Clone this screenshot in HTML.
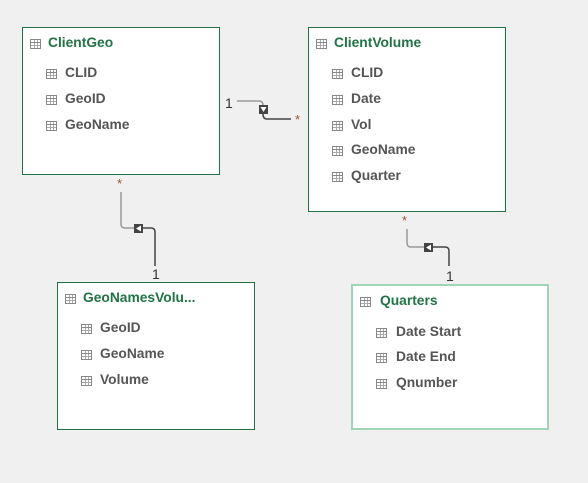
<!DOCTYPE html>
<html><head><style>
body{margin:0;width:588px;height:483px;background:#f0f0f0;position:relative;overflow:hidden;font-family:"Liberation Sans",sans-serif;}
.box{position:absolute;background:#fff;border:1px solid #217346;box-sizing:border-box;}
.t{position:absolute;font-weight:bold;font-size:13.8px;color:#217346;}
.f{position:absolute;font-weight:bold;font-size:13.8px;color:#555;}
.ic{position:absolute;width:11px;height:10px;border:1px solid #888;box-sizing:border-box;background:
linear-gradient(#888,#888) 0 2px/100% 1px no-repeat,
linear-gradient(#aaa,#aaa) 0 5px/100% 1px no-repeat,
linear-gradient(#aaa,#aaa) 3px 0/1px 100% no-repeat,
linear-gradient(#aaa,#aaa) 6px 0/1px 100% no-repeat,#fff;}
.n{position:absolute;font-size:14px;color:#333;}
.s{position:absolute;font-size:13px;color:#a0522d;}
</style></head><body>
<svg width="588" height="483" style="position:absolute;left:0;top:0">
<g fill="none" stroke-width="1.5">
<path d="M237 101 H259 Q263 101 263 105" stroke="#999"/>
<path d="M263 114 Q263 119 267 119 H291" stroke="#444"/>
<path d="M121 192 V224 Q121 228 125 228 H134" stroke="#999"/>
<path d="M143 228 H151 Q155 228 155 232 V266" stroke="#444"/>
<path d="M407 229 V243 Q407 247 411 247 H424" stroke="#999"/>
<path d="M433 247 H445 Q449 247 449 251 V266" stroke="#444"/>
</g>
<rect x="259" y="105" width="9" height="9" fill="#444"/><path d="M260.5 107 L266.5 107 L263.5 112Z" fill="#fff"/>
<rect x="134" y="224" width="9" height="9" fill="#444"/><path d="M141 225.5 L141 231.5 L136 228.5Z" fill="#fff"/>
<rect x="424" y="243" width="9" height="9" fill="#444"/><path d="M431 244.5 L431 250.5 L426 247.5Z" fill="#fff"/>
</svg>
<span class="n" style="left:225px;top:95px">1</span>
<span class="s" style="left:295px;top:112px">*</span>
<span class="s" style="left:117px;top:176px">*</span>
<span class="n" style="left:152px;top:266px">1</span>
<span class="s" style="left:402px;top:213px">*</span>
<span class="n" style="left:446px;top:268px">1</span>

<div class="box" style="left:22px;top:27px;width:198px;height:148px"></div>
<div class="ic" style="left:30px;top:39px"></div><span class="t" style="left:48px;top:35px">ClientGeo</span>
<div class="ic" style="left:46px;top:69px"></div><span class="f" style="left:65px;top:65px">CLID</span>
<div class="ic" style="left:46px;top:95px"></div><span class="f" style="left:65px;top:91px">GeoID</span>
<div class="ic" style="left:46px;top:121px"></div><span class="f" style="left:65px;top:117px">GeoName</span>

<div class="box" style="left:308px;top:27px;width:198px;height:185px"></div>
<div class="ic" style="left:316px;top:39px"></div><span class="t" style="left:334px;top:35px">ClientVolume</span>
<div class="ic" style="left:332px;top:69px"></div><span class="f" style="left:351px;top:65px">CLID</span>
<div class="ic" style="left:332px;top:95px"></div><span class="f" style="left:351px;top:91px">Date</span>
<div class="ic" style="left:332px;top:121px"></div><span class="f" style="left:351px;top:117px">Vol</span>
<div class="ic" style="left:332px;top:146px"></div><span class="f" style="left:351px;top:142px">GeoName</span>
<div class="ic" style="left:332px;top:172px"></div><span class="f" style="left:351px;top:168px">Quarter</span>

<div class="box" style="left:57px;top:282px;width:198px;height:148px"></div>
<div class="ic" style="left:65px;top:294px"></div><span class="t" style="left:83px;top:290px">GeoNamesVolu...</span>
<div class="ic" style="left:81px;top:324px"></div><span class="f" style="left:100px;top:320px">GeoID</span>
<div class="ic" style="left:81px;top:350px"></div><span class="f" style="left:100px;top:346px">GeoName</span>
<div class="ic" style="left:81px;top:376px"></div><span class="f" style="left:100px;top:372px">Volume</span>

<div class="box" style="left:351px;top:284px;width:198px;height:146px;border:2px solid #9fd5b7"></div>
<div class="ic" style="left:360px;top:297px"></div><span class="t" style="left:380px;top:293px">Quarters</span>
<div class="ic" style="left:376px;top:328px"></div><span class="f" style="left:396px;top:324px">Date Start</span>
<div class="ic" style="left:376px;top:353px"></div><span class="f" style="left:396px;top:349px">Date End</span>
<div class="ic" style="left:376px;top:379px"></div><span class="f" style="left:396px;top:375px">Qnumber</span>
</body></html>
